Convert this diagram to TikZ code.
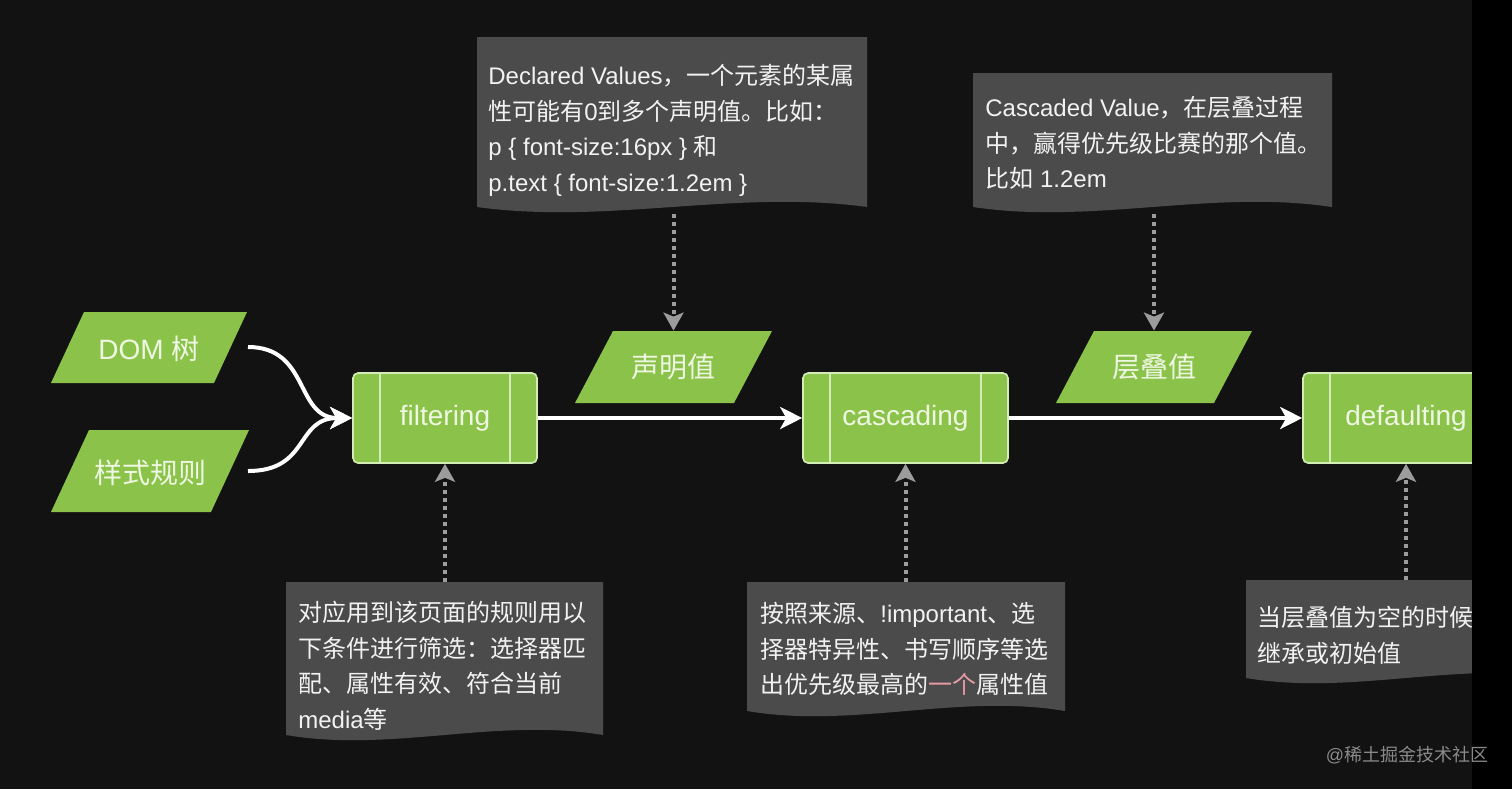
\documentclass[tikz,border=0pt]{standalone}
\usepackage{fontspec}
\setmainfont{Liberation Sans}
\newfontfamily\cjk{Noto Sans CJK SC}
\usetikzlibrary{arrows.meta}
\newcommand\zh[1]{{\cjk #1}}
\definecolor{bg}{HTML}{121212}
\definecolor{grn}{HTML}{8BC34A}
\definecolor{grnline}{HTML}{D4ECB8}
\definecolor{grntext}{HTML}{EEF7E2}
\definecolor{callfill}{HTML}{4B4B4B}
\definecolor{calltext}{HTML}{F2F2F2}
\definecolor{dashgray}{HTML}{9C9C9C}
\definecolor{pinktext}{HTML}{E69CA2}
\definecolor{wmgray}{HTML}{8A8A8A}
% callout (document) shape: x0, y0, x1, yb
\newcommand\calloutshape[4]{%
  \fill[callfill] (#1,#2) -- (#3,#2) -- (#3,#4)
    .. controls ({#3-(#3-#1)/3},{#4-18}) and ({#1+(#3-#1)/3},{#4+18}) .. (#1,#4) -- cycle;}
% parallelogram: cx, cy, w, h, slant
\newcommand\paragram[5]{%
  \fill[grn] ({#1-#3/2+#5/2},{#2-#4/2}) -- ({#1+#3/2+#5/2},{#2-#4/2})
    -- ({#1+#3/2-#5/2},{#2+#4/2}) -- ({#1-#3/2-#5/2},{#2+#4/2}) -- cycle;}
\begin{document}
\begin{tikzpicture}[x=0.5pt,y=-0.5pt,
  procbox/.style={draw=grnline, line width=0.8pt, fill=grn, rounded corners=2.5pt,
    text=grntext, font=\fontsize{14pt}{16pt}\selectfont, minimum height=45pt, inner sep=0pt},
  paralabel/.style={text=grntext, font=\fontsize{14pt}{16pt}\selectfont, inner sep=0pt, minimum height=36pt},
  ctext/.style={anchor=north west, inner sep=0pt, align=left, text=calltext,
    font=\fontsize{12pt}{17.75pt}\selectfont},
  innerline/.style={draw=grnline, line width=0.8pt},
  flow/.style={draw=white, line width=2pt, -{Stealth[length=11pt,width=11pt,inset=3pt]}},
  dasharrow/.style={draw=dashgray, line width=2pt, dash pattern=on 2pt off 2pt,
    -{Stealth[length=9pt,width=10pt,inset=2pt]}},
  wmtext/.style={text=wmgray, font=\fontsize{9pt}{11pt}\selectfont, inner sep=0pt}
]
\useasboundingbox (0,0) rectangle (1512,789);
\clip (0,0) rectangle (1512,789);
\fill[bg] (0,0) rectangle (1512,789);

% parallelograms
\paragram{149}{347.5}{163}{71}{33}
\paragram{150}{471}{160}{82}{38}
\paragram{673.5}{367}{159}{72}{38}
\paragram{1154}{367}{158}{72}{38}
\node[paralabel] (dom) at (149,349) {DOM \zh{树}};
\node[paralabel] (rules) at (150,473) {\zh{样式规则}};
\node[paralabel, minimum height=36pt] (decl) at (673.5,367) {\zh{声明值}};
\node[paralabel, minimum height=36pt] (casv) at (1154,367) {\zh{层叠值}};

% process boxes
\node[procbox, minimum width=92pt] (f) at (445,418) {filtering};
\node[procbox, minimum width=102.5pt] (c) at (905.5,418) {cascading};
\node[procbox, minimum width=103pt] (d) at (1406,418) {defaulting};
\foreach \n in {f,c,d}{
  \draw[innerline] ([xshift=14pt]\n.north west) -- ([xshift=14pt]\n.south west);
  \draw[innerline] ([xshift=-14pt]\n.north east) -- ([xshift=-14pt]\n.south east);
}

% callouts
\calloutshape{477}{37}{867}{207}
\calloutshape{973}{73}{1332}{207}
\calloutshape{286}{582}{603}{735}
\calloutshape{747}{582}{1065}{711}
\calloutshape{1246}{580}{1566}{678}

\node[ctext] (t1) at (488,64) {Declared Values\zh{，一个元素的某属}\\
\zh{性可能有}0\zh{到多个声明值。比如：}\\
p \{ font-size:16px \} \zh{和}\\
p.text \{ font-size:1.2em \}};
\node[ctext] (t2) at (985,96) {Cascaded Value\zh{，在层叠过程}\\
\zh{中，赢得优先级比赛的那个值。}\\
\zh{比如} 1.2em};
\node[ctext] (t3) at (298,601) {\zh{对应用到该页面的规则用以}\\
\zh{下条件进行筛选：选择器匹}\\
\zh{配、属性有效、符合当前}\\
media\zh{等}};
\node[ctext] (t4) at (760,602) {\zh{按照来源、}!important\zh{、选}\\
\zh{择器特异性、书写顺序等选}\\
\zh{出优先级最高的}\textcolor{pinktext}{\zh{一个}}\zh{属性值}};
\node[ctext] (t5) at (1257,606) {\zh{当层叠值为空的时候}\\
\zh{继承或初始值}};

% connector end points on callout edges and shape edges
\coordinate (domout) at (248,347);
\coordinate (rulesout) at (248,471);
\coordinate (a1) at (673.5,214);
\coordinate (a2) at (1154,214);
\coordinate (a3) at (445,582);
\coordinate (a4) at (905.5,582);
\coordinate (a5) at (1406,580);

% flow arrows
\draw[flow] (domout) .. controls (310,347) and (295,418) .. (f.west);
\draw[flow] (rulesout) .. controls (310,471) and (295,418) .. (f.west);
\draw[flow] (f.east) -- (c.west);
\draw[flow] (c.east) -- (d.west);

% dashed arrows
\draw[dasharrow] (a1) -- (decl.north);
\draw[dasharrow] (a2) -- (casv.north);
\draw[dasharrow] (a3) -- (f.south);
\draw[dasharrow] (a4) -- (c.south);
\draw[dasharrow] (a5) -- (d.south);

% right black strip
\fill[black] (1472,0) rectangle (1512,789);
\node[wmtext] (wm) at (1407,755) {@\zh{稀土掘金技术社区}};
\end{tikzpicture}
\end{document}
